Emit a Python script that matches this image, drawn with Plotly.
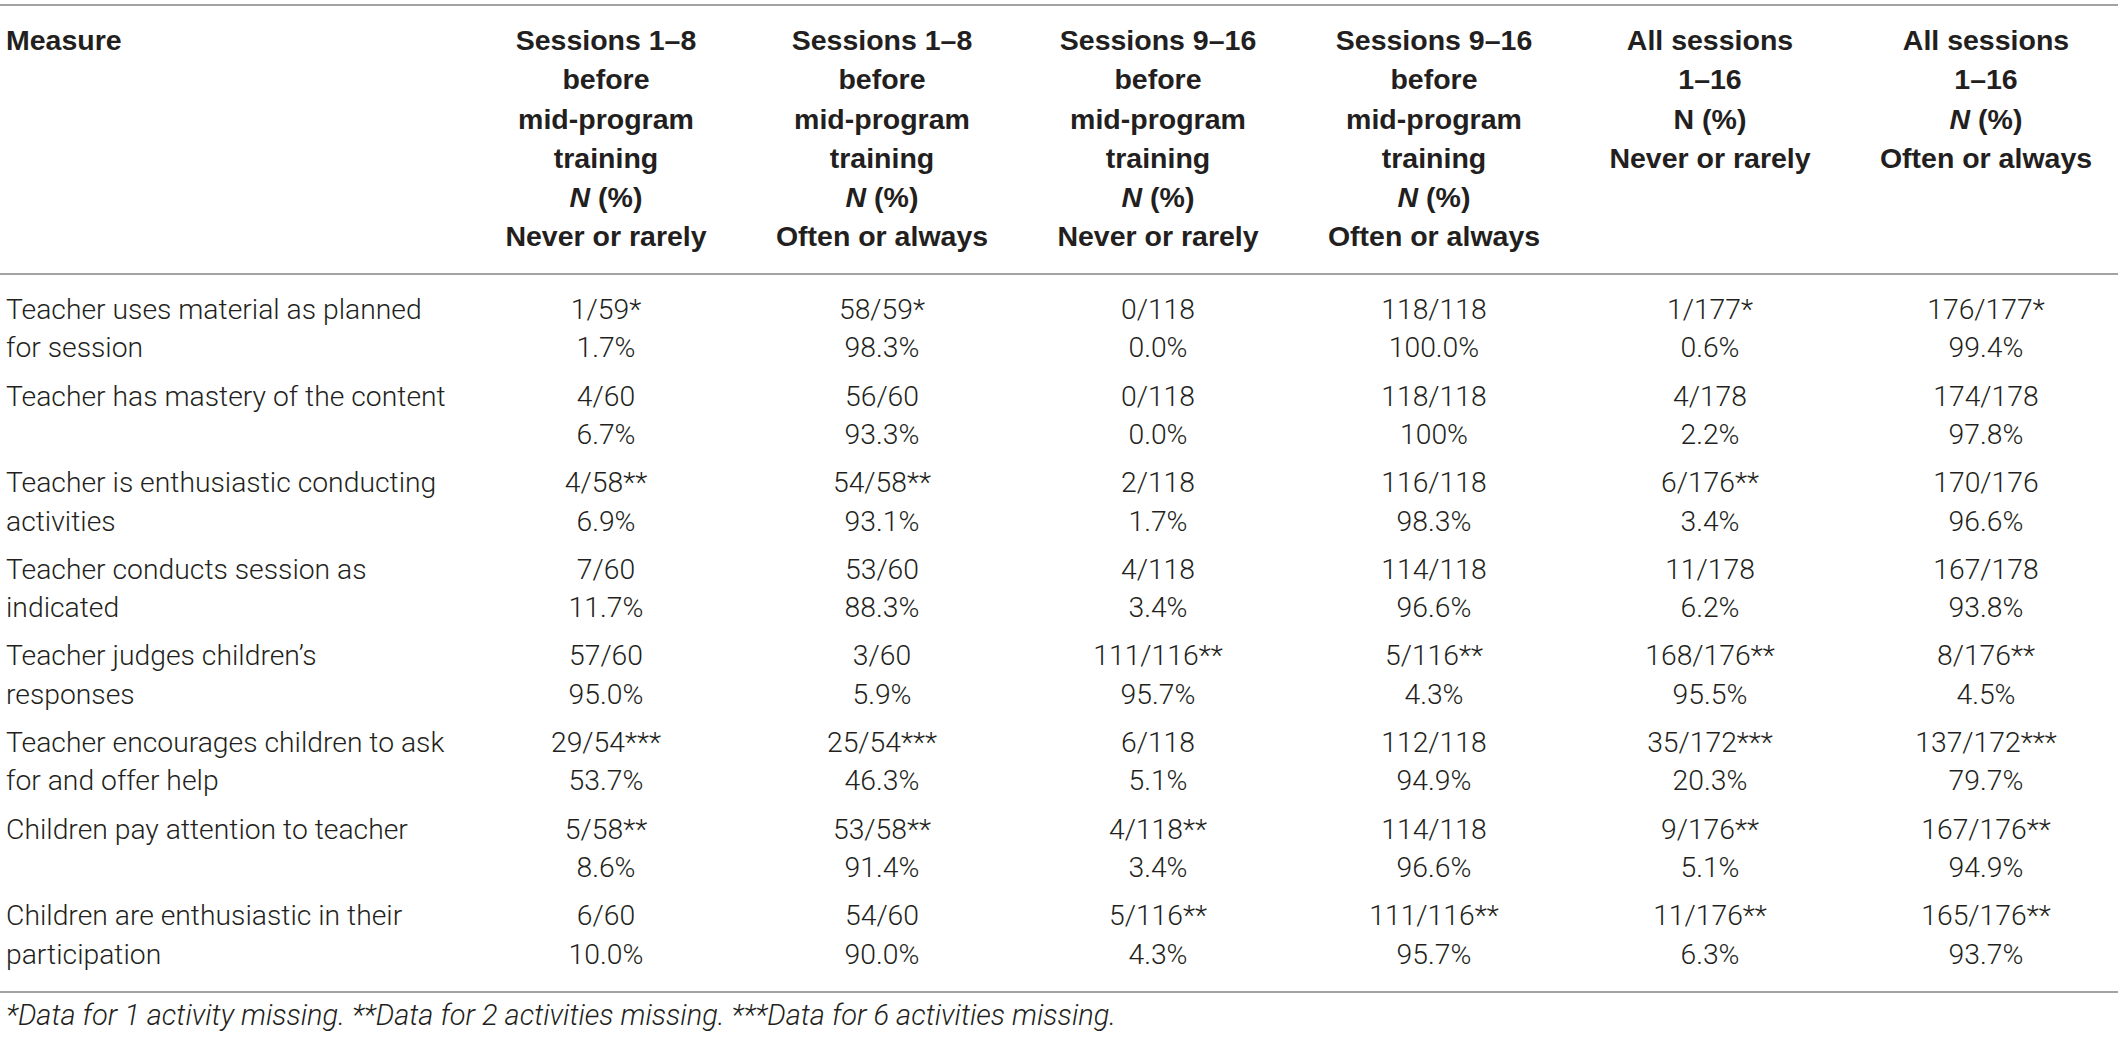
import plotly.graph_objects as go

# ---------------- data ----------------
measure_line1 = [
    "Teacher uses material as planned",
    "Teacher has mastery of the content",
    "Teacher is enthusiastic conducting",
    "Teacher conducts session as",
    "Teacher judges children’s",
    "Teacher encourages children to ask",
    "Children pay attention to teacher",
    "Children are enthusiastic in their",
]
measure_line2 = [
    "for session",
    "",
    "activities",
    "indicated",
    "responses",
    "for and offer help",
    "",
    "participation",
]

header_measure = "Measure"
header_lines = [
    ["Sessions 1–8", "before", "mid-program", "training", "<i>N</i> (%)", "Never or rarely"],
    ["Sessions 1–8", "before", "mid-program", "training", "<i>N</i> (%)", "Often or always"],
    ["Sessions 9–16", "before", "mid-program", "training", "<i>N</i> (%)", "Never or rarely"],
    ["Sessions 9–16", "before", "mid-program", "training", "<i>N</i> (%)", "Often or always"],
    ["All sessions", "1–16", "N (%)", "Never or rarely"],
    ["All sessions", "1–16", "<i>N</i> (%)", "Often or always"],
]

c1_n = ["1/59*", "4/60", "4/58**", "7/60", "57/60", "29/54***", "5/58**", "6/60"]
c1_p = ["1.7%", "6.7%", "6.9%", "11.7%", "95.0%", "53.7%", "8.6%", "10.0%"]
c2_n = ["58/59*", "56/60", "54/58**", "53/60", "3/60", "25/54***", "53/58**", "54/60"]
c2_p = ["98.3%", "93.3%", "93.1%", "88.3%", "5.9%", "46.3%", "91.4%", "90.0%"]
c3_n = ["0/118", "0/118", "2/118", "4/118", "111/116**", "6/118", "4/118**", "5/116**"]
c3_p = ["0.0%", "0.0%", "1.7%", "3.4%", "95.7%", "5.1%", "3.4%", "4.3%"]
c4_n = ["118/118", "118/118", "116/118", "114/118", "5/116**", "112/118", "114/118", "111/116**"]
c4_p = ["100.0%", "100%", "98.3%", "96.6%", "4.3%", "94.9%", "96.6%", "95.7%"]
c5_n = ["1/177*", "4/178", "6/176**", "11/178", "168/176**", "35/172***", "9/176**", "11/176**"]
c5_p = ["0.6%", "2.2%", "3.4%", "6.2%", "95.5%", "20.3%", "5.1%", "6.3%"]
c6_n = ["176/177*", "174/178", "170/176", "167/178", "8/176**", "137/172***", "167/176**", "165/176**"]
c6_p = ["99.4%", "97.8%", "96.6%", "93.8%", "4.5%", "79.7%", "94.9%", "93.7%"]

footnote = ("*Data for 1 activity missing. **Data for 2 activities missing. "
            "***Data for 6 activities missing.")

columns_n = [c1_n, c2_n, c3_n, c4_n, c5_n, c6_n]
columns_p = [c1_p, c2_p, c3_p, c4_p, c5_p, c6_p]

# ---------------- layout constants ----------------
W, H = 2118, 1040
FIRST_COL = 606
COL_STEP = 276
LEFT_X = 6
HEAD_Y0 = 43
HEAD_DY = 39.2
ROW_Y0 = 312
ROW_DY = 86.6
LINE_DY = 38.3
RULES_Y = [5, 274, 992]
FOOT_Y = 1018

TEXT = "#231f20"
RULE = "#a3a3a3"
BODY_FONT = dict(family="Roboto, Liberation Sans, Arial, sans-serif", size=28.3, color=TEXT, weight=300)
FOOT_FONT = dict(family="Roboto, Liberation Sans, Arial, sans-serif", size=29, color=TEXT, weight=300,
                 style="italic")
HEAD_FONT = dict(family="Liberation Sans, Arial, sans-serif", size=28.5, color=TEXT, weight="bold")

fig = go.Figure()

# header: Measure
fig.add_trace(go.Scatter(
    x=[LEFT_X], y=[HEAD_Y0], text=[header_measure], mode="text",
    textposition="middle right", textfont=HEAD_FONT,
    hoverinfo="skip", showlegend=False))

# header: data columns
hx, hy, ht = [], [], []
for i, lines in enumerate(header_lines):
    for j, t in enumerate(lines):
        hx.append(FIRST_COL + COL_STEP * i)
        hy.append(HEAD_Y0 + HEAD_DY * j)
        ht.append(t)
fig.add_trace(go.Scatter(
    x=hx, y=hy, text=ht, mode="text", textposition="middle center",
    textfont=HEAD_FONT, hoverinfo="skip", showlegend=False))

# measure column
mx, my, mt = [], [], []
for r, (a, b) in enumerate(zip(measure_line1, measure_line2)):
    for l, t in enumerate((a, b)):
        mx.append(LEFT_X)
        my.append(ROW_Y0 + ROW_DY * r + LINE_DY * l)
        mt.append(t)
fig.add_trace(go.Scatter(
    x=mx, y=my, text=mt, mode="text", textposition="middle right",
    textfont=BODY_FONT, hoverinfo="skip", showlegend=False))

# data cells
for i, (ns, ps) in enumerate(zip(columns_n, columns_p)):
    cx, cy, ct = [], [], []
    for r, (n, p) in enumerate(zip(ns, ps)):
        for l, t in enumerate((n, p)):
            cx.append(FIRST_COL + COL_STEP * i)
            cy.append(ROW_Y0 + ROW_DY * r + LINE_DY * l)
            ct.append(t)
    fig.add_trace(go.Scatter(
        x=cx, y=cy, text=ct, mode="text", textposition="middle center",
        textfont=BODY_FONT, hoverinfo="skip", showlegend=False))

# footnote
fig.add_trace(go.Scatter(
    x=[LEFT_X], y=[FOOT_Y], text=[footnote], mode="text",
    textposition="middle right", textfont=FOOT_FONT,
    hoverinfo="skip", showlegend=False))

# horizontal rules
for ry in RULES_Y:
    fig.add_shape(type="line", xref="paper", x0=0, x1=1, yref="y", y0=ry, y1=ry,
                  line=dict(color=RULE, width=2))

fig.update_layout(
    width=W, height=H,
    margin=dict(l=0, r=0, t=0, b=0),
    paper_bgcolor="white", plot_bgcolor="white",
    xaxis=dict(range=[0, W], visible=False, fixedrange=True),
    yaxis=dict(range=[H, 0], visible=False, fixedrange=True),
    showlegend=False,
)

fig.write_html("out.html", config={"displayModeBar": False},
               post_script="document.body.style.margin='0px';document.body.style.overflow='hidden';")
